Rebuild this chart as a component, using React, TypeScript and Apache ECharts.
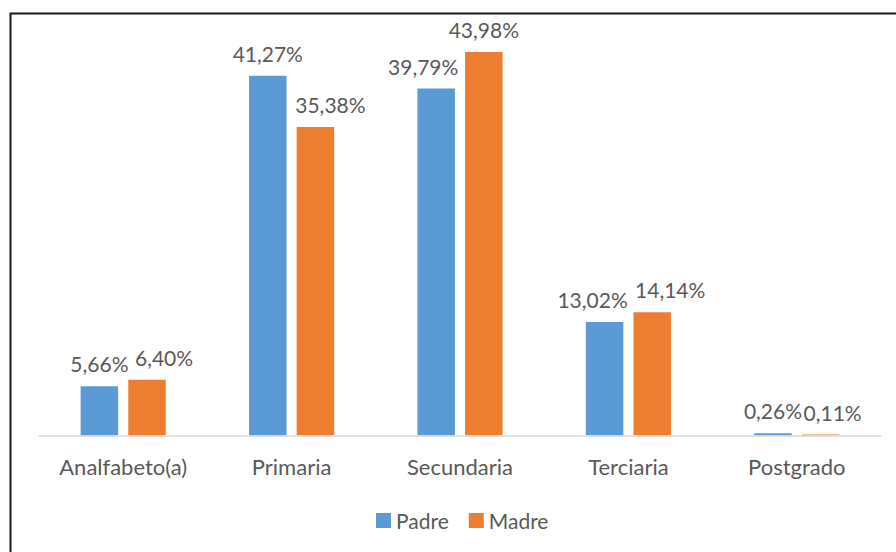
import React, { useEffect, useRef } from "react";
import * as echarts from "echarts";

const categories = ["Analfabeto(a)", "Primaria", "Secundaria", "Terciaria", "Postgrado"];
const padre = [5.66, 41.27, 39.79, 13.02, 0.26];
const madre = [6.4, 35.38, 43.98, 14.14, 0.11];
const seriesNames = ["Padre", "Madre"];

// horizontal nudges of value labels (px), as Excel moved them to avoid overlap
const padreLabelShift = [0, 0, -13, -12, 0];
const madreLabelShift = [17, 15, 0, 18, 12];

const FONT = "Lato";
const TEXT = "#595959";

export default function App() {
  const ref = useRef<HTMLDivElement>(null);
  useEffect(() => {
    if (!ref.current) return;
    const chart = echarts.init(ref.current, null, { renderer: "svg" });
    const fmt = (p: any) => Number(p.value).toFixed(2).replace(".", ",") + "%";
    const mk = (vals: number[], shifts: number[]) =>
      vals.map((v, i) => ({ value: v, label: { offset: [shifts[i], 0] } }));
    const label = {
      show: true,
      position: "top",
      distance: 12,
      formatter: fmt,
      fontFamily: FONT,
      fontSize: 21,
      color: TEXT,
    };
    chart.setOption({
      animation: false,
      textStyle: { fontFamily: FONT },
      graphic: [
        {
          type: "rect",
          shape: { x: 10.5, y: 13.5, width: 1000, height: 1000 },
          style: { fill: "none", stroke: "#1a1a1a", lineWidth: 2 },
          silent: true,
        },
      ],
      grid: { left: 39, right: 15, top: 43.1, bottom: 116.5, containLabel: false },
      legend: {
        data: seriesNames,
        left: 371,
        top: 505,
        itemWidth: 15,
        itemHeight: 15,
        itemGap: 20,
        icon: "rect",
        textStyle: { fontFamily: FONT, fontSize: 21, color: TEXT },
      },
      xAxis: {
        type: "category",
        data: categories,
        z: 3,
        axisLine: { lineStyle: { color: "#d9d9d9", width: 1.5 } },
        axisTick: { show: false },
        axisLabel: { fontFamily: FONT, fontSize: 22, color: TEXT, margin: 20 },
      },
      yAxis: {
        type: "value",
        min: 0,
        max: 45,
        show: false,
        splitLine: { show: false },
      },
      series: [
        {
          name: seriesNames[0],
          type: "bar",
          data: mk(padre, padreLabelShift),
          barWidth: 37.5,
          barGap: "27%",
          itemStyle: { color: "#5B9BD5" },
          label,
        },
        {
          name: seriesNames[1],
          type: "bar",
          data: mk(madre, madreLabelShift),
          barWidth: 37.5,
          itemStyle: { color: "#ED7D31" },
          label,
        },
      ],
    });
    return () => chart.dispose();
  }, []);
  return (
    <div
      ref={ref}
      style={{ position: "fixed", left: 0, top: 0, width: 896, height: 552, background: "#fff" }}
    />
  );
}
